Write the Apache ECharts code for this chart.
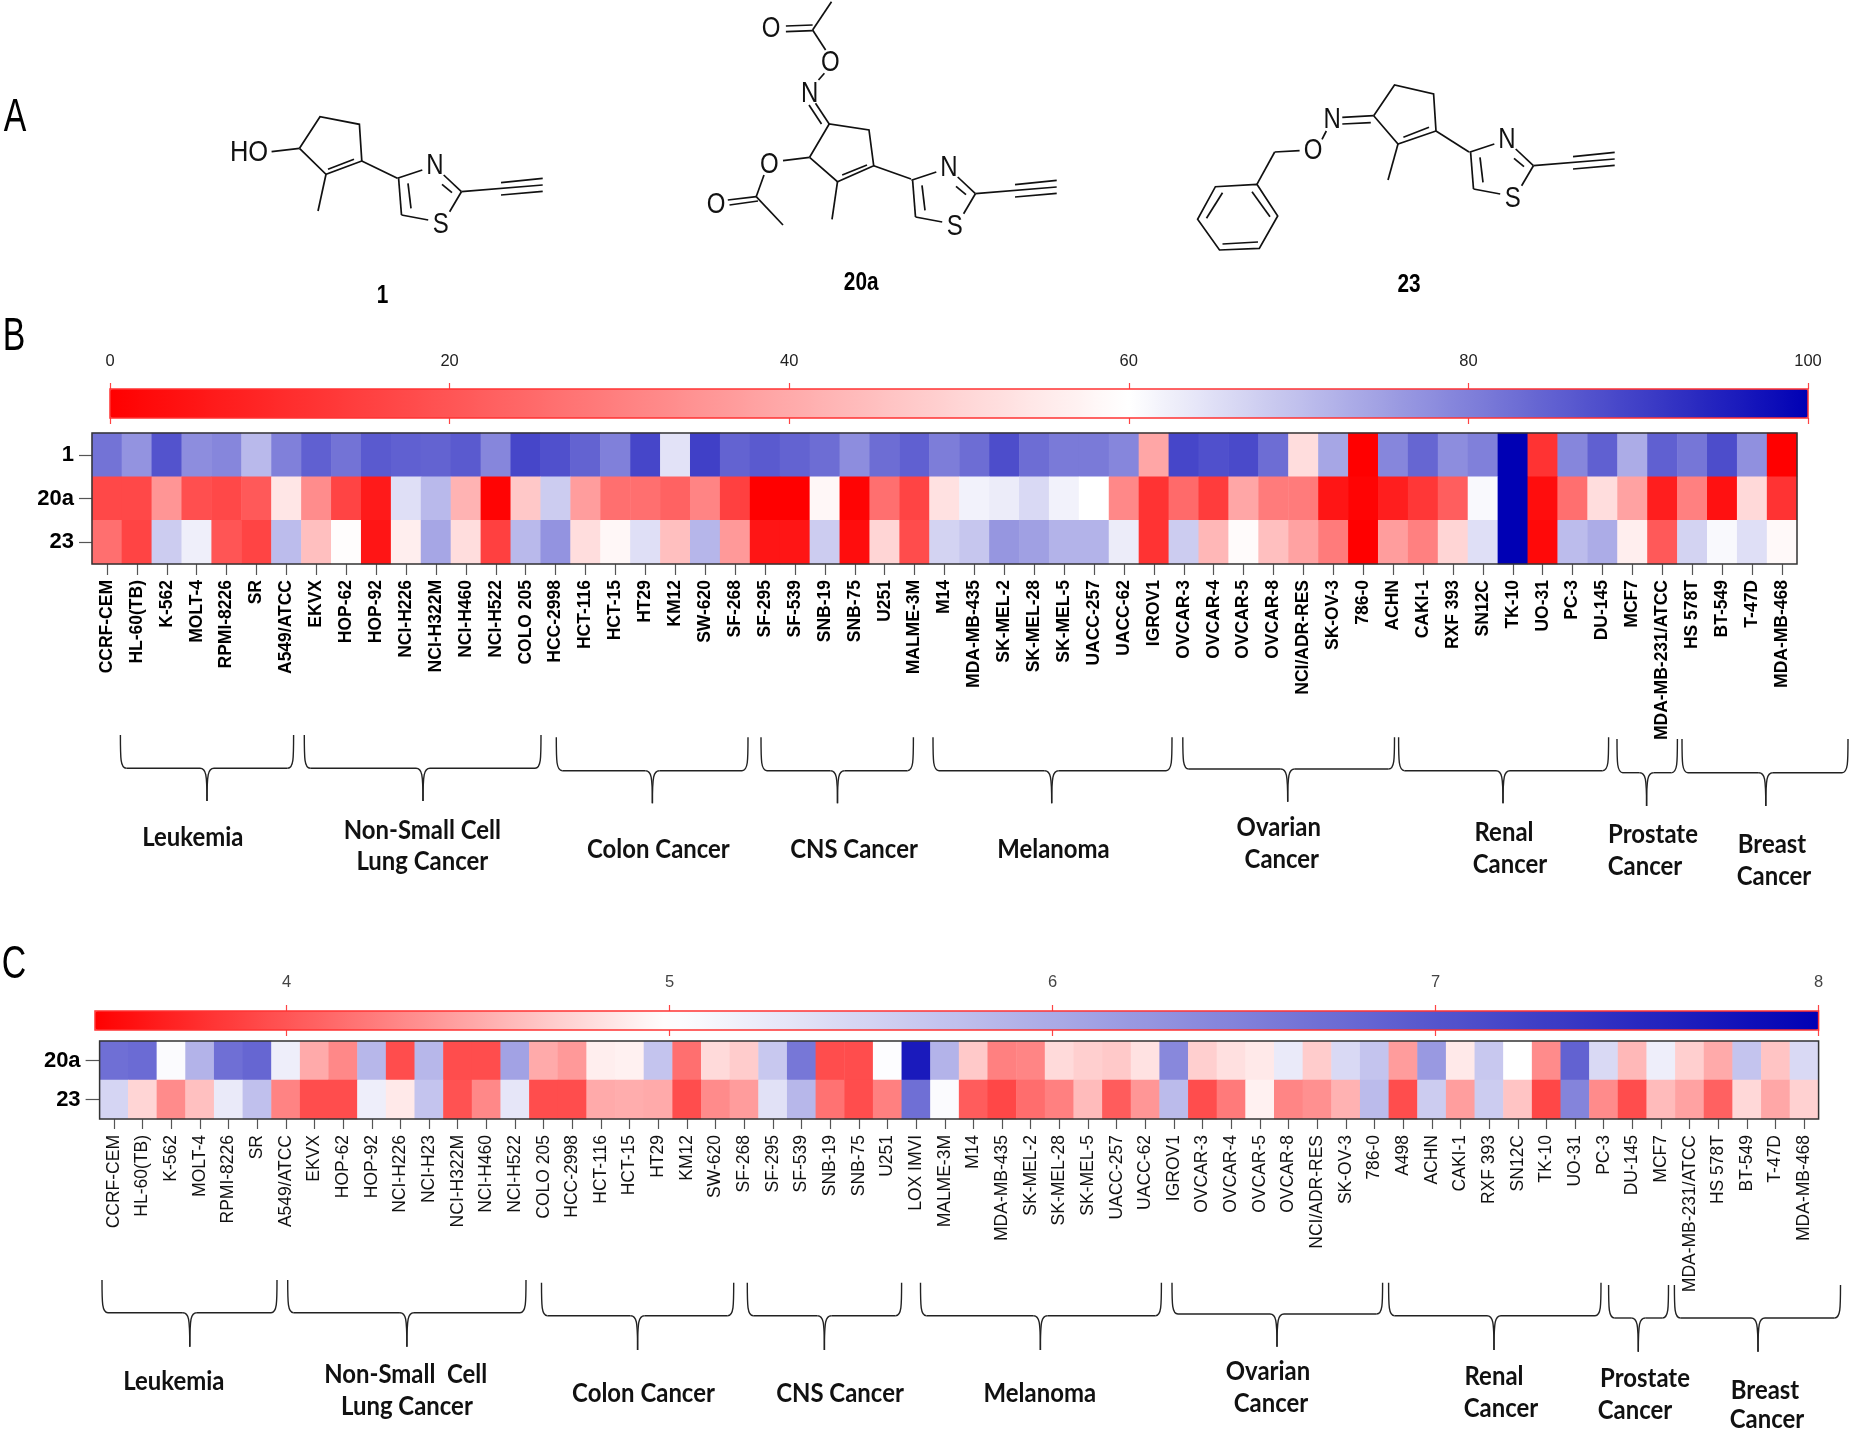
<!DOCTYPE html>
<html>
<head>
<meta charset="utf-8">
<style>html,body{margin:0;padding:0;background:#fff}#c{width:1851px;height:1429px}</style>
<script src="https://cdn.jsdelivr.net/npm/echarts@6/dist/echarts.min.js"></script>
</head>
<body>
<div id="c"></div>
<script>
const compoundsB = ["1","20a","23"];
const compoundsC = ["20a","23"];
const cellLinesB = ["CCRF-CEM","HL-60(TB)","K-562","MOLT-4","RPMI-8226","SR","A549/ATCC","EKVX","HOP-62","HOP-92","NCI-H226","NCI-H322M","NCI-H460","NCI-H522","COLO 205","HCC-2998","HCT-116","HCT-15","HT29","KM12","SW-620","SF-268","SF-295","SF-539","SNB-19","SNB-75","U251","MALME-3M","M14","MDA-MB-435","SK-MEL-2","SK-MEL-28","SK-MEL-5","UACC-257","UACC-62","IGROV1","OVCAR-3","OVCAR-4","OVCAR-5","OVCAR-8","NCI/ADR-RES","SK-OV-3","786-0","ACHN","CAKI-1","RXF 393","SN12C","TK-10","UO-31","PC-3","DU-145","MCF7","MDA-MB-231/ATCC","HS 578T","BT-549","T-47D","MDA-MB-468"];
const valuesB1 = [82,77,87,78,79,71,80,85,82,86,85,84.5,86,79,89,87.5,84.5,80,89,64.5,90,84.5,86,84.5,83,78,83,85,80.5,83,88,83,81,81,79,39,89,87.5,88.5,83,52,74,0,79,84,78,80,100,12,79,85,73,85,81.5,88,77.5,0];
const valuesB20a = [17,17,35,18.5,17,21,54,33,16,6,65,71,42,1,47,68,37,26,26,23,31,15,0,0,58,1,26,16,53,62,63,66,62,60,32,12,25,14,39,29,29,5,1,7,13,22,61,100,3,26,52,38,7,30,4,51,12];
const valuesB23 = [26,16,68,62.5,20,16,70.5,45,59.5,5,56,74,52,15,71,77,52,58,65,45,71.5,36,5,5,68,3,50,18,67,69,76.5,75,72,72,63,12,68,43,59,45,38,29,0,37,30,50,65,100,2,70.5,73,56,21,67,61,65,58.5];
const cellLinesC = ["CCRF-CEM","HL-60(TB)","K-562","MOLT-4","RPMI-8226","SR","A549/ATCC","EKVX","HOP-62","HOP-92","NCI-H226","NCI-H23","NCI-H322M","NCI-H460","NCI-H522","COLO 205","HCC-2998","HCT-116","HCT-15","HT29","KM12","SW-620","SF-268","SF-295","SF-539","SNB-19","SNB-75","U251","LOX IMVI","MALME-3M","M14","MDA-MB-435","SK-MEL-2","SK-MEL-28","SK-MEL-5","UACC-257","UACC-62","IGROV1","OVCAR-3","OVCAR-4","OVCAR-5","OVCAR-8","NCI/ADR-RES","SK-OV-3","786-0","A498","ACHN","CAKI-1","RXF 393","SN12C","TK-10","UO-31","PC-3","DU-145","MCF7","MDA-MB-231/ATCC","HS 578T","BT-549","T-47D","MDA-MB-468"];
const valuesC20a = [6.7,6.75,5.05,5.9,6.7,6.8,5.2,4.5,4.3,5.85,3.95,5.85,3.95,3.95,6.1,4.5,4.4,4.9,4.92,5.7,4.15,4.78,4.7,5.65,6.6,3.95,3.95,5.02,7.7,5.9,4.68,4.25,4.28,4.78,4.72,4.68,4.83,6.4,4.72,4.82,4.87,5.25,4.7,5.45,5.7,4.42,6.2,4.87,5.65,5.0,4.32,6.85,5.45,4.58,5.2,4.72,4.5,5.7,4.65,5.45];
const valuesC23 = [5.5,4.75,4.32,4.63,5.25,5.75,4.27,3.95,3.95,5.2,4.87,5.7,3.98,4.3,5.3,3.95,3.95,4.5,4.52,4.5,3.95,4.32,4.42,5.35,5.85,4.17,3.95,4.25,6.7,5.05,4.04,3.92,4.14,4.25,4.6,4.04,4.38,5.8,3.95,4.22,4.92,4.28,4.35,4.55,5.8,3.95,5.6,4.43,5.6,4.65,3.92,6.45,4.32,3.95,4.6,4.45,4.07,4.77,4.48,4.73];
const legendTicksC = [4,5,6,7,8];
const rampB = ["#ff0000","#ff5555","#ffaaaa","#ffffff","#8080da","#0000b4"];
const rampC = ["#ff0000","#ffffff","#8080da","#0000b4"];

const SANS = '"Liberation Sans",sans-serif';
const LABEL = 'Lato,"Open Sans",sans-serif';
function cells(rows){const out=[];rows.forEach((r,y)=>r.forEach((v,x)=>out.push([x,y,v])));return out;}

/* ---- annotation drawing: structures, braces and captions (page pixels) ---- */
const g=[];
function L(a,b,c,d,w){g.push({type:'line',silent:true,shape:{x1:a,y1:b,x2:c,y2:d},style:{stroke:'#111',lineWidth:w||1.7}});}
function P(pts){g.push({type:'polyline',silent:true,shape:{points:pts},style:{stroke:'#111',fill:null,lineWidth:1.7}});}
function T(s,x,y,font,fill,sx){g.push({type:'text',silent:true,x:x,y:y,scaleX:sx||1,style:{text:s,x:0,y:0,font:font,fill:fill||'#000',align:'center',verticalAlign:'middle'}});}
function atom(s,x,y){T(s,x,y+1,'30px '+SANS,'#111',0.8);}
function thiazole(dx,dy){
  const s=[[397.4,178.3,422.3,170],[443.7,175,461.4,191.7],[442,184.3,452,192.7],[461.4,191.7,449.6,211.7],[428.2,220,401.5,215],[401.5,215,398.6,178.3],[411,208.3,408,183.3],[461.4,191.7,542.7,185],[501,182.7,542.7,178.3],[501,195,542.7,191.3]];
  s.forEach(q=>L(q[0]+dx,q[1]+dy,q[2]+dx,q[3]+dy));
  atom('N',434.8+dx,165+dy);atom('S',440.7+dx,224+dy);
}
// compound 1
P([[299.5,148.3],[320,116.7],[359.4,124.3],[361.8,161],[326,174.3],[299.5,148.3]]);
L(271.6,151.7,299.5,148.3);L(328,169.3,354,159.3);L(326,174.3,318,211);L(361.8,161,397.4,178.3);
T('HO',249,153,'30px '+SANS,'#111',0.85);thiazole(0,0);
// compound 20a
P([[809.6,157.3],[829.2,124],[869,130],[873.7,165.7],[837.5,181.7],[809.6,157.3]]);
L(842.2,175,867,165);L(837.5,181.7,832,219.3);L(873.7,165.7,911,179);
L(783,160.7,809.6,157.3);L(764,175,756.2,196.7);L(727.8,200,756.2,196.7);L(729.5,205,758,201);L(756.2,196.7,783,225);
L(829.2,124,815.5,103.3);L(821.5,124,809,105);L(818.5,80,824.4,73.3);L(825.6,50,812.6,30);
L(785.9,26,812.6,25);L(785.9,31.7,812.6,30.7);L(812.6,30,831.5,1.7);
atom('O',769.3,164);atom('O',716,204);atom('N',809.6,92.7);atom('O',830.4,61.7);atom('O',771,27.7);
thiazole(514,2);
// compound 23
P([[1373.7,115.7],[1394.5,85],[1433.6,94],[1436,131],[1398,144],[1373.7,115.7]]);
L(1403.4,137.3,1429,127.3);L(1398,144,1388,180);L(1436,131,1469,152);
L(1373.7,115.7,1342.3,117.3);L(1370.8,122.7,1342.3,124);L(1326.3,131,1322,139.3);L(1299.6,150.7,1274.7,152);L(1274.7,152,1256.9,184.3);
P([[1256.9,184.3],[1277.7,216],[1259.3,248.3],[1219.5,250],[1197.6,219.3],[1215.4,186.7],[1256.9,184.3]]);
L(1252,191.7,1270,216.7);L(1258,242,1222.5,244);L(1206.5,218.3,1222.5,192.7);
atom('N',1332.2,119);atom('O',1313.2,150);thiazole(1072,-26);
// compound captions and panel letters
const cap='bold 26px '+SANS;
T('1',382.6,296,cap,'#000',0.8);T('20a',861.2,283,cap,'#000',0.8);T('23',1409,285,cap,'#000',0.8);
const big='47px '+SANS;
T('A',15,118,big,'#000',0.72);T('B',14,337,big,'#000',0.72);T('C',14,965,big,'#000',0.72);
// braces
function brace(l,r,tip,top,mid,end){
  const s={stroke:'#222',lineWidth:1.4,fill:'none'};
  const c=(a,b,e,f,h,i,j,k)=>g.push({type:'bezierCurve',silent:true,shape:{x1:a,y1:b,cpx1:e,cpy1:f,cpx2:h,cpy2:i,x2:j,y2:k},style:s});
  c(l,top,l,mid-10,l,mid,l+6,mid);
  g.push({type:'line',silent:true,shape:{x1:l+6,y1:mid,x2:tip-7,y2:mid},style:s});
  c(tip-7,mid,tip-1,mid,tip,mid+6,tip,end);
  c(tip+7,mid,tip+1,mid,tip,mid+6,tip,end);
  g.push({type:'line',silent:true,shape:{x1:tip+7,y1:mid,x2:r-6,y2:mid},style:s});
  c(r,top,r,mid-10,r,mid,r-6,mid);
}
[[120.4,293.6,207,735,768.3,801],[304.3,541,423,735,768.3,801],[556.3,748,652.4,737.3,770.7,803.3],[761,913.4,837.5,737.3,770.7,803.3],
 [933,1172,1051.7,737.3,770.7,803.3],[1182.8,1394.5,1287.7,737.3,769,801.7],[1398.6,1608.6,1503,737.3,770.7,803.3],[1617,1677.4,1646.6,739,772.7,806],[1682,1848,1765.8,739,772.7,806],
 [102,277,189.8,1280,1312.7,1346.7],[287.7,526,406.9,1280,1312.7,1346.7],[541.5,733.7,637.6,1282.7,1315.7,1350],[747.3,901.6,824.4,1282.7,1315.7,1350],
 [920.5,1161.4,1040.4,1282.7,1315.7,1350],[1172,1382.6,1277,1282.7,1314,1346.7],[1388.6,1601,1494,1282.7,1315.7,1350],[1608.6,1668.5,1638.3,1285,1318,1351.7],[1674.4,1840.5,1758,1285,1318,1351.7]
].forEach(b=>brace.apply(null,b));
// group captions
const gf='bold 26px '+LABEL;
[["Leukemia",192.8,838],["Non-Small Cell",422.3,830.5],["Lung Cancer",422.3,862],["Colon Cancer",658.4,850],["CNS Cancer",854,849.5],["Melanoma",1053.5,849.5],["Ovarian",1278.8,828],["Cancer",1281.8,859.5],["Renal",1504,833],["Cancer",1510,865],["Prostate",1653,835],["Cancer",1645,867],["Breast",1772,845],["Cancer",1774,877],
 ["Leukemia",173.8,1382],["Non-Small  Cell",405.7,1374.5],["Lung Cancer",406.9,1407],["Colon Cancer",643.5,1394],["CNS Cancer",840,1394],["Melanoma",1039.8,1393.5],["Ovarian",1268,1372],["Cancer",1271,1404],["Renal",1494,1377],["Cancer",1501,1409],["Prostate",1645,1379],["Cancer",1635,1411],["Breast",1765,1390.5],["Cancer",1767,1420]
].forEach(t=>T(t[0],t[1],t[2],gf,'#111',0.92));

/* ---- chart ---- */
function catX(grid,names,weight,color,tick){return {type:'category',gridIndex:grid,data:names,position:'bottom',
  axisLine:{show:false},axisTick:{show:true,alignWithLabel:true,length:tick,lineStyle:{color:'#555',width:1.2}},
  axisLabel:{interval:0,rotate:90,margin:16,fontFamily:SANS,fontSize:17.5,fontWeight:weight,color:color},
  splitLine:{show:false},splitArea:{show:false}};}
function catY(grid,names,size,tick){return {type:'category',gridIndex:grid,data:names,inverse:true,
  axisLine:{show:false},axisTick:{show:true,alignWithLabel:true,length:tick,lineStyle:{color:'#555',width:1.2}},
  axisLabel:{margin:tick+5,fontFamily:SANS,fontSize:size,fontWeight:'bold',color:'#000'},splitLine:{show:false},splitArea:{show:false}};}
function legendTop(grid,opt,color,margin){return Object.assign({type:'value',gridIndex:grid,position:'top',
  axisLine:{show:false},axisTick:{show:true,length:6,lineStyle:{color:'#f44',width:1.2}},
  axisLabel:{margin:margin,fontFamily:SANS,fontSize:16.5,color:color},splitLine:{show:false}},opt);}
function legendBottom(grid,opt){return Object.assign({type:'value',gridIndex:grid,position:'bottom',
  axisLine:{show:false},axisTick:{show:true,length:6,lineStyle:{color:'#f44',width:1.2}},
  axisLabel:{show:false},splitLine:{show:false}},opt);}
const scaleB={min:0,max:100,interval:20};
const scaleC={min:3.5,max:8,interval:0.5};
const lcTop=legendTop(3,scaleC,'#444',20);lcTop.axisTick.customValues=legendTicksC;lcTop.axisLabel.customValues=legendTicksC;
const lcBot=legendBottom(3,scaleC);lcBot.axisTick.customValues=legendTicksC;

const option={
  animation:false,backgroundColor:'#fff',
  grid:[
    {left:92,top:433,width:1705,height:131,show:true,borderColor:'#333',borderWidth:1.5,backgroundColor:'transparent',z:5},
    {left:99.6,top:1041,width:1719,height:78,show:true,borderColor:'#333',borderWidth:1.5,backgroundColor:'transparent',z:5},
    {left:110,top:389,width:1698,height:29,show:true,borderColor:'#f33',borderWidth:1.5,backgroundColor:'transparent',z:6},
    {left:95,top:1011,width:1723.6,height:19,show:true,borderColor:'#f33',borderWidth:1.5,backgroundColor:'transparent',z:6}
  ],
  xAxis:[catX(0,cellLinesB,'bold','#000',11),catX(1,cellLinesC,'normal','#111',10),
    legendTop(2,scaleB,'#222',19),lcTop,legendBottom(2,scaleB),lcBot],
  yAxis:[catY(0,compoundsB,22,13),catY(1,compoundsC,22,14),
    {type:'category',gridIndex:2,show:false,data:['']},{type:'category',gridIndex:3,show:false,data:['']},
    {type:'category',gridIndex:2,show:false,data:['']},{type:'category',gridIndex:3,show:false,data:['']}],
  visualMap:[
    {type:'continuous',seriesIndex:0,dimension:2,min:0,max:100,orient:'horizontal',left:110,top:389,itemWidth:29,itemHeight:1698,padding:0,calculable:false,hoverLink:false,text:null,inRange:{color:rampB}},
    {type:'continuous',seriesIndex:1,dimension:2,min:3.5,max:8,orient:'horizontal',left:95,top:1011,itemWidth:19,itemHeight:1723.6,padding:0,calculable:false,hoverLink:false,text:null,inRange:{color:rampC}}
  ],
  series:[
    {type:'heatmap',xAxisIndex:0,yAxisIndex:0,data:cells([valuesB1,valuesB20a,valuesB23]),silent:true,itemStyle:{borderWidth:0}},
    {type:'heatmap',xAxisIndex:1,yAxisIndex:1,data:cells([valuesC20a,valuesC23]),silent:true,itemStyle:{borderWidth:0}}
  ],
  graphic:{elements:g}
};
echarts.init(document.getElementById('c')).setOption(option);
</script>
</body>
</html>
